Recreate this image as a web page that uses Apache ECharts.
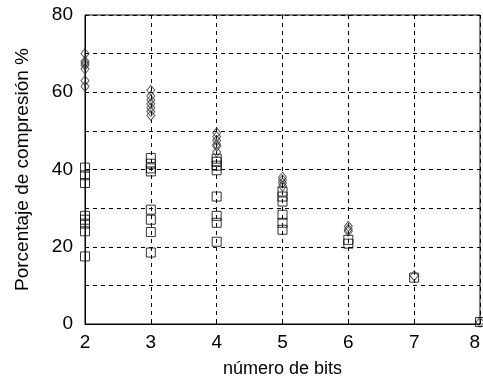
<!DOCTYPE html>
<html><head><meta charset="utf-8">
<script src="https://cdn.jsdelivr.net/npm/echarts@6/dist/echarts.min.js"></script>
<style>html,body{margin:0;padding:0;background:#fff}#c{width:483px;height:383px}</style>
</head><body><div id="c"></div>
<script>
var bits = [2, 3, 4, 5, 6, 7, 8];
var diamondValues = [
  [70, 68, 67.5, 67, 66, 63, 61.5],
  [60.5, 59, 58, 57, 56, 55, 54],
  [49.5, 48.5, 47.5, 46.5, 46, 44.5],
  [38, 37.3, 36.5, 35.7],
  [25.3, 24.5, 24],
  [12.5],
  [0.5]
];
var squareValues = [
  [40.5, 38.5, 36.5, 28, 27, 26, 24, 17.5],
  [43, 41.5, 40.3, 39.5, 29.6, 27, 23.8, 18.5],
  [42.8, 42, 41, 39.8, 33, 28, 26.2, 21.3],
  [34.3, 33, 31.7, 28.3, 26.2, 24.4],
  [21.8, 20.8],
  [12],
  [0.5]
];
var yTickLabels = [0, 20, 40, 60, 80];

function pairs(vals) {
  var out = [];
  vals.forEach(function (arr, i) { arr.forEach(function (v) { out.push([bits[i], v]); }); });
  return out;
}

var font = 'Liberation Sans, Arial, sans-serif';
var chart = echarts.init(document.getElementById('c'));
chart.setOption({
  animation: false,
  grid: { left: 85, right: 0, top: 15, bottom: 56, show: true, borderColor: '#000', borderWidth: 1 },
  xAxis: {
    type: 'value', min: 2, max: 8, interval: 1,
    name: 'número de bits', nameLocation: 'middle', nameGap: 36,
    nameTextStyle: { fontFamily: font, fontSize: 18, color: '#000' },
    axisLine: { show: true, lineStyle: { color: '#000', width: 1 } },
    axisTick: { show: true, inside: true, length: 4, lineStyle: { color: '#000' } },
    axisLabel: { fontFamily: font, fontSize: 19, color: '#000', margin: 9, alignMaxLabel: 'right' },
    splitLine: { show: true, lineStyle: { color: '#000', type: [4, 4], width: 1 } }
  },
  yAxis: {
    type: 'value', min: 0, max: 80, interval: 10,
    name: 'Porcentaje de compresión %', nameLocation: 'middle', nameGap: 53,
    nameTextStyle: { fontFamily: font, fontSize: 19, color: '#000' },
    axisLine: { show: true, lineStyle: { color: '#000', width: 1 } },
    axisTick: { show: false },
    axisLabel: {
      fontFamily: font, fontSize: 19, color: '#000', margin: 12,
      formatter: function (v) { return yTickLabels.indexOf(v) >= 0 ? String(v) : ''; }
    },
    splitLine: { show: true, lineStyle: { color: '#000', type: [4, 4], width: 1 } }
  },
  series: [
    {
      type: 'scatter', name: 'diamonds', data: pairs(diamondValues),
      symbol: 'diamond', symbolSize: [8, 10],
      itemStyle: { color: 'rgba(0,0,0,0)', borderColor: '#333', borderWidth: 1 }
    },
    {
      type: 'scatter', name: 'squares', data: pairs(squareValues),
      symbol: 'rect', symbolSize: 9,
      itemStyle: { color: 'rgba(0,0,0,0)', borderColor: '#000', borderWidth: 1 }
    }
  ]
});
</script></body></html>
